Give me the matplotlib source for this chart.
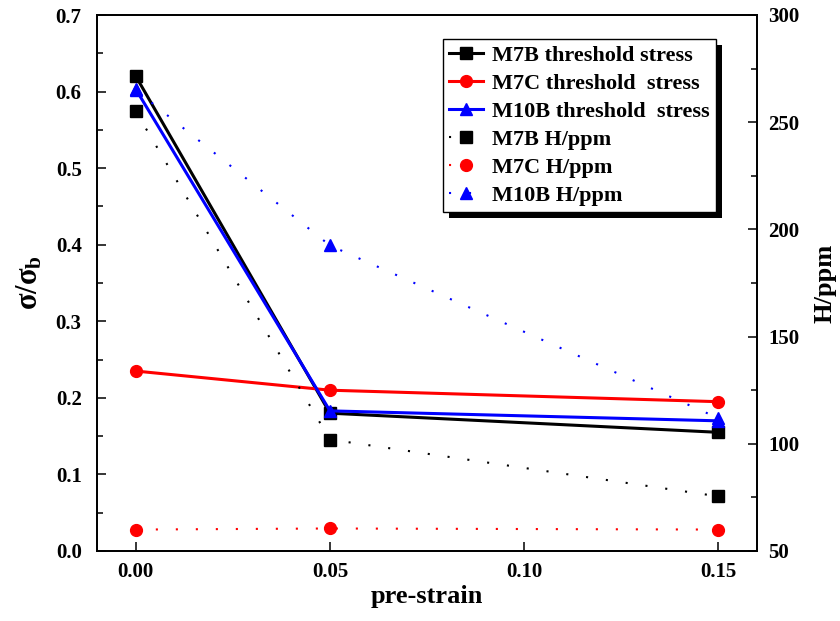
import numpy as np
import matplotlib
matplotlib.use("Agg")
import matplotlib.pyplot as plt
from matplotlib.ticker import MultipleLocator
from matplotlib.patches import Rectangle

plt.rcParams["font.family"] = ["Liberation Serif", "DejaVu Serif"]
plt.rcParams["font.weight"] = "bold"
plt.rcParams["axes.labelweight"] = "bold"
plt.rcParams["mathtext.fontset"] = "custom"
plt.rcParams["mathtext.rm"] = "Liberation Serif:bold"
plt.rcParams["mathtext.bf"] = "Liberation Serif:bold"
plt.rcParams["mathtext.it"] = "Liberation Serif:bold"

strain = [0.0, 0.05, 0.15]

# threshold stress ratio (left axis)
m7b_stress = [0.62, 0.180, 0.155]
m7c_stress = [0.235, 0.210, 0.195]
m10b_stress = [0.603, 0.183, 0.170]

# hydrogen content (right axis)
m7b_h = [255, 102, 75.5]
m7c_h = [60, 60.5, 60]
m10b_h = [265, 192.5, 112]

fig = plt.figure(figsize=(8.4, 6.21), dpi=100)
ax = fig.add_axes([97/840, 70/621, 660/840, 536/621])
ax2 = ax.twinx()

lw = 2.2
dots = (0, (1, 8.6))
l1, = ax.plot(strain, m7b_stress, color="black", lw=lw, marker="s", ms=8, label="M7B threshold stress")
l2, = ax.plot(strain, m7c_stress, color="red", lw=lw, marker="o", ms=8.5, label="M7C threshold  stress")
l3, = ax.plot(strain, m10b_stress, color="blue", lw=lw, marker="^", ms=9, label="M10B threshold  stress")
l4, = ax2.plot(strain, m7b_h, color="black", lw=1.5, ls=dots, marker="s", ms=8, label="M7B H/ppm")
l5, = ax2.plot(strain, m7c_h, color="red", lw=1.5, ls=dots, marker="o", ms=8.5, label="M7C H/ppm")
l6, = ax2.plot(strain, m10b_h, color="blue", lw=1.5, ls=dots, marker="^", ms=9, label="M10B H/ppm")

ax.set_xlim(-0.01, 0.16)
ax.set_ylim(0, 0.7)
ax2.set_ylim(50, 300)
ax.set_xticks([0.0, 0.05, 0.10, 0.15], ["0.00", "0.05", "0.10", "0.15"])
ax.yaxis.set_major_locator(MultipleLocator(0.1))
ax.yaxis.set_minor_locator(MultipleLocator(0.05))
ax2.yaxis.set_major_locator(MultipleLocator(50))
ax2.yaxis.set_minor_locator(MultipleLocator(25))

for a in (ax, ax2):
    for s in a.spines.values():
        s.set_linewidth(1.3)
ax.tick_params(axis="both", which="major", direction="in", length=6.5, width=1.1, labelsize=15)
ax.tick_params(axis="y", which="minor", direction="in", length=4, width=1.1)
ax.tick_params(axis="y", which="major", pad=11)
ax.tick_params(axis="x", which="major", pad=8)
ax2.tick_params(axis="y", which="major", direction="in", length=6.5, width=1.1, labelsize=15, pad=8)
ax2.tick_params(axis="y", which="minor", direction="in", length=4, width=1.1)

ax.set_xlabel("pre-strain", fontsize=19, labelpad=2)
ax.set_ylabel("σ/σ$_\\mathbf{b}$", fontsize=22)
ax.yaxis.set_label_coords(-0.08, 0.5)
ax2.set_ylabel("H/ppm", fontsize=19)
ax2.yaxis.set_label_coords(1.085, 0.5)

leg = ax2.legend(handles=[l1, l2, l3, l4, l5, l6], loc="upper right",
                 bbox_to_anchor=(716/840, 1 - 39/621), bbox_transform=fig.transFigure,
                 fontsize=16, frameon=True, fancybox=False,
                 handlelength=1.5, handletextpad=0.4, labelspacing=0.33,
                 borderpad=0.3, borderaxespad=0)
leg.get_frame().set_edgecolor("black")
leg.get_frame().set_linewidth(1.0)
leg.get_frame().set_alpha(1)

# solid black drop shadow behind the legend box
fig.canvas.draw()
bb = leg.get_window_extent()
shadow = Rectangle((bb.x0 + 6, bb.y0 - 6), bb.width, bb.height, transform=None,
                   facecolor="black", edgecolor="none", zorder=leg.get_zorder() - 0.1)
ax2.add_artist(shadow)

fig.savefig("out.png", dpi=100)
